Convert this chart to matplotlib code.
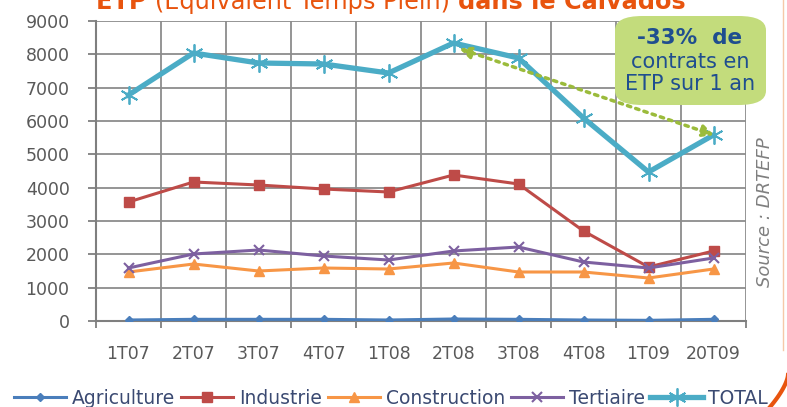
import numpy as np
import matplotlib
matplotlib.use('Agg')
import matplotlib.pyplot as plt
from matplotlib.patches import FancyBboxPatch
from matplotlib.lines import Line2D

quarters = ['1T07', '2T07', '3T07', '4T07', '1T08', '2T08', '3T08', '4T08', '1T09', '20T09']
agriculture = [30, 50, 50, 50, 30, 60, 50, 30, 20, 50]
industrie = [3570, 4170, 4080, 3960, 3870, 4380, 4110, 2700, 1620, 2100]
construction = [1470, 1710, 1500, 1590, 1560, 1740, 1470, 1470, 1290, 1560]
tertiaire = [1590, 2010, 2130, 1950, 1830, 2100, 2220, 1770, 1590, 1890]
total = [6780, 8040, 7740, 7710, 7440, 8340, 7890, 6090, 4470, 5580]
yticks = [0, 1000, 2000, 3000, 4000, 5000, 6000, 7000, 8000, 9000]

plt.rcParams['font.family'] = ['DejaVu Sans']

fig = plt.figure(figsize=(7.87, 4.07), dpi=100)
ax = fig.add_axes([96/787, 86/407, 650/787, 300/407])

x = np.arange(len(quarters))
ax.plot(x, agriculture, color='#4a7ebb', lw=2.2, marker='D', ms=4, label='Agriculture', zorder=3)
ax.plot(x, industrie, color='#be4b48', lw=2.2, marker='s', ms=7, label='Industrie', zorder=3)
ax.plot(x, construction, color='#f79646', lw=2.2, marker='^', ms=7, label='Construction', zorder=3)
ax.plot(x, tertiaire, color='#7d60a0', lw=2.2, marker='x', ms=7, mew=1.5, label='Tertiaire', zorder=3)
ax.plot(x, total, color='#4bacc6', lw=3.8, marker=(6, 2, 0), ms=13, mew=1.3, label='TOTAL', zorder=4)

ax.set_xlim(-0.5, len(quarters) - 0.5)
ax.set_ylim(0, 9000)
ax.set_yticks(yticks)
ax.set_yticklabels([str(v) for v in yticks], fontsize=12.5, color='#595959')
ax.set_xticks(x)
ax.set_xticklabels(quarters, fontsize=12.5, color='#595959')
ax.set_xticks(np.arange(-0.5, len(quarters), 1), minor=True)
ax.tick_params(axis='x', which='major', length=0, pad=17)
ax.tick_params(axis='x', which='minor', length=5, color='#7f7f7f', width=1.3)
ax.tick_params(axis='y', length=6, color='#7f7f7f', width=1.3, pad=13)
ax.grid(True, which='minor', axis='x', color='#8c8c8c', lw=1.3)
ax.grid(True, which='major', axis='y', color='#8c8c8c', lw=1.3)
ax.set_axisbelow(True)
for s in ['top', 'right']:
    ax.spines[s].set_visible(False)
for s in ['left', 'bottom']:
    ax.spines[s].set_color('#7f7f7f')
    ax.spines[s].set_linewidth(1.5)

# dotted arrow between the two peaks
ax.annotate('', xy=(9.05, 5550), xytext=(5.05, 8200),
            arrowprops=dict(arrowstyle='<|-|>,head_length=0.7,head_width=0.35',
                            color='#9bbb3b', lw=2.5, ls=(0, (1, 1.5))), zorder=5)

# callout box
box = FancyBboxPatch((615/787, 302/407), 151/787, 89/407,
                     boxstyle='round,pad=0,rounding_size=0.035',
                     transform=fig.transFigure, facecolor='#c3dc7c', edgecolor='none', zorder=6)
fig.patches.append(box)
fig.text(690/787, 1 - 38/407, '-33%  de', ha='center', va='center', fontsize=15.5,
         fontweight='bold', color='#1f4e8f', zorder=7)
fig.text(690/787, 1 - 62/407, 'contrats en', ha='center', va='center', fontsize=15,
         color='#1f4e8f', zorder=7)
fig.text(690/787, 1 - 84/407, 'ETP sur 1 an', ha='center', va='center', fontsize=15,
         color='#1f4e8f', zorder=7)

# title (cut off at the top, as in the original)
renderer = fig.canvas.get_renderer()
tx = 96/787
ty = 1 - 9/407
for part, w in [('ETP ', 'bold'), ('(Equivalent Temps Plein) ', 'normal'), ('dans le Calvados', 'bold')]:
    t = fig.text(tx, ty, part, ha='left', va='baseline', fontsize=17.3, fontweight=w, color='#e8540e')
    bb = t.get_window_extent(renderer=renderer)
    tx += bb.width / fig.bbox.width

fig.text(765/787, 1 - 212/407, 'Source : DRTEFP', rotation=90, ha='center', va='center',
         fontsize=13, fontstyle='italic', color='#7f7f7f')

# decorative border on the right
fig.add_artist(Line2D([783/787, 783/787], [1, 57/407], transform=fig.transFigure,
                      color='#f5c9a8', lw=1))
t = np.linspace(0, 1, 30)
fig.add_artist(Line2D((788 - 18 * t ** 1.5) / 787, (32 - 32 * t) / 407,
                      transform=fig.transFigure, color='#e8540e', lw=3))

fig.legend(loc='center', bbox_to_anchor=(391/787, 1 - 398/407), ncol=5, frameon=False,
           fontsize=13.5, handlelength=2.8, columnspacing=0.3, handletextpad=0.3,
           labelcolor='#3b4a72', borderaxespad=0, borderpad=0)

fig.savefig('out.png', dpi=100)
